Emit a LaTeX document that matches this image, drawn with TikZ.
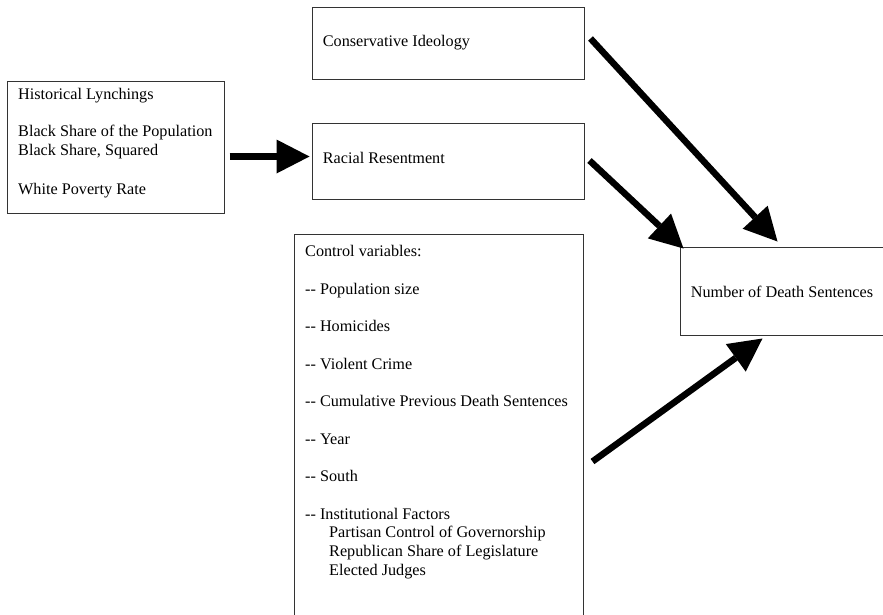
\documentclass[tikz,border=0pt]{standalone}
\usepackage{fontspec}
\setmainfont{Liberation Serif}
\usetikzlibrary{arrows.meta,calc}
\tikzset{
  box/.style={draw=black!80, line width=1pt, rectangle, inner sep=0pt},
  txt/.style={anchor=base west, inner sep=0pt, font=\fontsize{16.2pt}{18.8pt}\selectfont},
  bigarrow/.style={line width=6.5pt, -{Triangle[length=33pt,width=34pt,line width=0pt]}}
}
\begin{document}
\begin{tikzpicture}[x=1pt,y=-1pt]
\useasboundingbox (0,0) rectangle (883,614);
\clip (0,0) rectangle (883,614);
\fill[white] (0,0) rectangle (883,614);
% boxes
\node[box, minimum width=217pt, minimum height=132pt] (hist) at (115.5,147) {};
\node[box, minimum width=272pt, minimum height=72pt] (cons) at (448,43) {};
\node[box, minimum width=272pt, minimum height=76pt] (racial) at (448,161) {};
\node[box, minimum width=289pt, minimum height=406pt] (ctrl) at (438.5,437) {};
\node[box, minimum width=220pt, minimum height=88pt] (num) at (790,291) {};
% texts
\node[txt] (h1) at (18,99) {Historical Lynchings};
\node[txt] (h2) at (18,136.6) {Black Share of the Population};
\node[txt] (h3) at (18,155.4) {Black Share, Squared};
\node[txt] (h4) at (18,194) {White Poverty Rate};
\node[txt] (ct) at (322.7,46.7) {Conservative Ideology};
\node[txt] (rt) at (322.7,163) {Racial Resentment};
\node[txt] (nt) at (690.7,297) {Number of Death Sentences};
\node[txt] (c1) at (305,256.7) {Control variables:};
\node[txt] (c2) at (305,294.2) {-{}- Population size};
\node[txt] (c3) at (305,331.7) {-{}- Homicides};
\node[txt] (c4) at (305,369.2) {-{}- Violent Crime};
\node[txt] (c5) at (305,406.7) {-{}- Cumulative Previous Death Sentences};
\node[txt] (c6) at (305,444.2) {-{}- Year};
\node[txt] (c7) at (305,481.7) {-{}- South};
\node[txt] (c8) at (305,519.2) {-{}- Institutional Factors};
\node[txt] (c9) at (329,537.95) {Partisan Control of Governorship};
\node[txt] (c10) at (329,556.7) {Republican Share of Legislature};
\node[txt] (c11) at (329,575.45) {Elected Judges};
% arrows
\draw[bigarrow] ($(hist.north east)+(5,76)$) -- ($(racial.north west)+(-2,34)$);
\draw[bigarrow] ($(cons.north east)+(6,32)$) -- ($(num.north west)+(98,-5)$);
\draw[bigarrow] ($(racial.north east)+(5,38)$) -- ($(num.north west)+(4,2)$);
\draw[bigarrow] ($(ctrl.north east)+(9,228)$) -- ($(num.south west)+(83,3)$);
\end{tikzpicture}
\end{document}
